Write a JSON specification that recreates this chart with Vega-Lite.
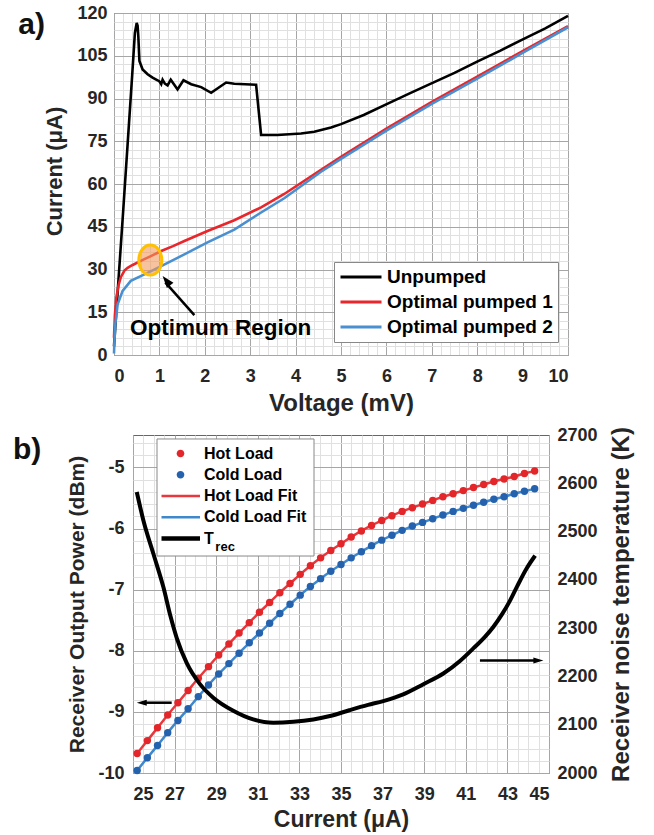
{
"$schema":"https://vega.github.io/schema/vega-lite/v6.json",
"padding":{"left":12,"top":3,"right":5,"bottom":3},
"spacing":80,
"center":true,
"bounds":"flush",
"resolve":{"scale":{"color":"independent"},"legend":{"color":"independent"}},
"datasets":{
"iv":[
{"s":"Unpumped","V":0,"I":3},{"s":"Unpumped","V":0.05,"I":15},{"s":"Unpumped","V":0.2,"I":50},{"s":"Unpumped","V":0.3,"I":74},{"s":"Unpumped","V":0.4,"I":98},{"s":"Unpumped","V":0.46,"I":113},{"s":"Unpumped","V":0.5,"I":116.5},{"s":"Unpumped","V":0.52,"I":115.5},{"s":"Unpumped","V":0.535,"I":112},{"s":"Unpumped","V":0.56,"I":103.2},{"s":"Unpumped","V":0.63,"I":100.2},{"s":"Unpumped","V":0.74,"I":98.5},{"s":"Unpumped","V":0.85,"I":97.3},{"s":"Unpumped","V":0.96,"I":96.4},{"s":"Unpumped","V":1.0,"I":96.0},{"s":"Unpumped","V":1.04,"I":95.0},{"s":"Unpumped","V":1.07,"I":96.6},{"s":"Unpumped","V":1.12,"I":95.2},{"s":"Unpumped","V":1.18,"I":94.6},{"s":"Unpumped","V":1.25,"I":96.6},{"s":"Unpumped","V":1.32,"I":95.0},{"s":"Unpumped","V":1.4,"I":93.2},{"s":"Unpumped","V":1.53,"I":96.4},{"s":"Unpumped","V":1.7,"I":95.0},{"s":"Unpumped","V":1.92,"I":94.0},{"s":"Unpumped","V":2.14,"I":92.0},{"s":"Unpumped","V":2.47,"I":95.6},{"s":"Unpumped","V":2.65,"I":95.2},{"s":"Unpumped","V":3.13,"I":94.8},{"s":"Unpumped","V":3.24,"I":77.2},{"s":"Unpumped","V":3.6,"I":77.2},{"s":"Unpumped","V":4.12,"I":77.7},{"s":"Unpumped","V":4.41,"I":78.3},{"s":"Unpumped","V":4.78,"I":79.8},{"s":"Unpumped","V":5.0,"I":81.0},{"s":"Unpumped","V":5.5,"I":84.2},{"s":"Unpumped","V":6.03,"I":88.2},{"s":"Unpumped","V":6.5,"I":91.7},{"s":"Unpumped","V":6.98,"I":95.2},{"s":"Unpumped","V":7.5,"I":99.0},{"s":"Unpumped","V":8.01,"I":103.0},{"s":"Unpumped","V":8.5,"I":106.7},{"s":"Unpumped","V":8.96,"I":110.4},{"s":"Unpumped","V":9.5,"I":114.6},{"s":"Unpumped","V":10.0,"I":119.0},
{"s":"Optimal pumped 1","V":0,"I":6},{"s":"Optimal pumped 1","V":0.02,"I":14},{"s":"Optimal pumped 1","V":0.05,"I":20},{"s":"Optimal pumped 1","V":0.1,"I":24.5},{"s":"Optimal pumped 1","V":0.15,"I":27.3},{"s":"Optimal pumped 1","V":0.23,"I":29.6},{"s":"Optimal pumped 1","V":0.3,"I":30.6},{"s":"Optimal pumped 1","V":0.4,"I":31.5},{"s":"Optimal pumped 1","V":0.6,"I":33.1},{"s":"Optimal pumped 1","V":0.8,"I":34.6},{"s":"Optimal pumped 1","V":1.04,"I":36.5},{"s":"Optimal pumped 1","V":1.3,"I":38.2},{"s":"Optimal pumped 1","V":1.55,"I":40.0},{"s":"Optimal pumped 1","V":2.06,"I":43.5},{"s":"Optimal pumped 1","V":2.65,"I":47.3},{"s":"Optimal pumped 1","V":3.24,"I":51.8},{"s":"Optimal pumped 1","V":3.75,"I":56.5},{"s":"Optimal pumped 1","V":4.56,"I":65.0},{"s":"Optimal pumped 1","V":5,"I":69.5},{"s":"Optimal pumped 1","V":6,"I":79.4},{"s":"Optimal pumped 1","V":7,"I":88.8},{"s":"Optimal pumped 1","V":8,"I":97.7},{"s":"Optimal pumped 1","V":9,"I":106.6},{"s":"Optimal pumped 1","V":10,"I":115.4},
{"s":"Optimal pumped 2","V":0,"I":0.5},{"s":"Optimal pumped 2","V":0.01,"I":5},{"s":"Optimal pumped 2","V":0.03,"I":10.8},{"s":"Optimal pumped 2","V":0.08,"I":17.8},{"s":"Optimal pumped 2","V":0.19,"I":22.5},{"s":"Optimal pumped 2","V":0.37,"I":26.0},{"s":"Optimal pumped 2","V":0.67,"I":28.3},{"s":"Optimal pumped 2","V":1.04,"I":31.2},{"s":"Optimal pumped 2","V":1.55,"I":35.3},{"s":"Optimal pumped 2","V":2.06,"I":39.5},{"s":"Optimal pumped 2","V":2.65,"I":44.0},{"s":"Optimal pumped 2","V":3.24,"I":50.0},{"s":"Optimal pumped 2","V":3.75,"I":55.0},{"s":"Optimal pumped 2","V":4.56,"I":64.3},{"s":"Optimal pumped 2","V":5,"I":68.8},{"s":"Optimal pumped 2","V":6,"I":78.7},{"s":"Optimal pumped 2","V":7,"I":88.1},{"s":"Optimal pumped 2","V":8,"I":97.0},{"s":"Optimal pumped 2","V":9,"I":106.0},{"s":"Optimal pumped 2","V":10,"I":115.0}
],
"pw":[
{"I":25.20,"P":-9.68,"pt":"Hot Load","fit":"Hot Load Fit"},{"I":25.69,"P":-9.47,"pt":"Hot Load","fit":"Hot Load Fit"},{"I":26.18,"P":-9.26,"pt":"Hot Load","fit":"Hot Load Fit"},{"I":26.67,"P":-9.05,"pt":"Hot Load","fit":"Hot Load Fit"},{"I":27.16,"P":-8.85,"pt":"Hot Load","fit":"Hot Load Fit"},{"I":27.65,"P":-8.65,"pt":"Hot Load","fit":"Hot Load Fit"},{"I":28.14,"P":-8.45,"pt":"Hot Load","fit":"Hot Load Fit"},{"I":28.63,"P":-8.26,"pt":"Hot Load","fit":"Hot Load Fit"},{"I":29.12,"P":-8.07,"pt":"Hot Load","fit":"Hot Load Fit"},{"I":29.61,"P":-7.89,"pt":"Hot Load","fit":"Hot Load Fit"},{"I":30.10,"P":-7.71,"pt":"Hot Load","fit":"Hot Load Fit"},{"I":30.59,"P":-7.54,"pt":"Hot Load","fit":"Hot Load Fit"},{"I":31.08,"P":-7.37,"pt":"Hot Load","fit":"Hot Load Fit"},{"I":31.57,"P":-7.21,"pt":"Hot Load","fit":"Hot Load Fit"},{"I":32.06,"P":-7.05,"pt":"Hot Load","fit":"Hot Load Fit"},{"I":32.55,"P":-6.90,"pt":"Hot Load","fit":"Hot Load Fit"},{"I":33.04,"P":-6.75,"pt":"Hot Load","fit":"Hot Load Fit"},{"I":33.53,"P":-6.61,"pt":"Hot Load","fit":"Hot Load Fit"},{"I":34.02,"P":-6.48,"pt":"Hot Load","fit":"Hot Load Fit"},{"I":34.51,"P":-6.36,"pt":"Hot Load","fit":"Hot Load Fit"},{"I":35.00,"P":-6.25,"pt":"Hot Load","fit":"Hot Load Fit"},{"I":35.49,"P":-6.14,"pt":"Hot Load","fit":"Hot Load Fit"},{"I":35.98,"P":-6.04,"pt":"Hot Load","fit":"Hot Load Fit"},{"I":36.47,"P":-5.95,"pt":"Hot Load","fit":"Hot Load Fit"},{"I":36.96,"P":-5.87,"pt":"Hot Load","fit":"Hot Load Fit"},{"I":37.45,"P":-5.79,"pt":"Hot Load","fit":"Hot Load Fit"},{"I":37.94,"P":-5.72,"pt":"Hot Load","fit":"Hot Load Fit"},{"I":38.43,"P":-5.66,"pt":"Hot Load","fit":"Hot Load Fit"},{"I":38.92,"P":-5.60,"pt":"Hot Load","fit":"Hot Load Fit"},{"I":39.41,"P":-5.54,"pt":"Hot Load","fit":"Hot Load Fit"},{"I":39.90,"P":-5.48,"pt":"Hot Load","fit":"Hot Load Fit"},{"I":40.39,"P":-5.43,"pt":"Hot Load","fit":"Hot Load Fit"},{"I":40.88,"P":-5.38,"pt":"Hot Load","fit":"Hot Load Fit"},{"I":41.37,"P":-5.33,"pt":"Hot Load","fit":"Hot Load Fit"},{"I":41.86,"P":-5.28,"pt":"Hot Load","fit":"Hot Load Fit"},{"I":42.35,"P":-5.23,"pt":"Hot Load","fit":"Hot Load Fit"},{"I":42.84,"P":-5.19,"pt":"Hot Load","fit":"Hot Load Fit"},{"I":43.33,"P":-5.15,"pt":"Hot Load","fit":"Hot Load Fit"},{"I":43.82,"P":-5.10,"pt":"Hot Load","fit":"Hot Load Fit"},{"I":44.31,"P":-5.06,"pt":"Hot Load","fit":"Hot Load Fit"},
{"I":25.20,"P":-9.96,"pt":"Cold Load","fit":"Cold Load Fit"},{"I":25.69,"P":-9.75,"pt":"Cold Load","fit":"Cold Load Fit"},{"I":26.18,"P":-9.55,"pt":"Cold Load","fit":"Cold Load Fit"},{"I":26.67,"P":-9.34,"pt":"Cold Load","fit":"Cold Load Fit"},{"I":27.16,"P":-9.14,"pt":"Cold Load","fit":"Cold Load Fit"},{"I":27.65,"P":-8.95,"pt":"Cold Load","fit":"Cold Load Fit"},{"I":28.14,"P":-8.75,"pt":"Cold Load","fit":"Cold Load Fit"},{"I":28.63,"P":-8.56,"pt":"Cold Load","fit":"Cold Load Fit"},{"I":29.12,"P":-8.38,"pt":"Cold Load","fit":"Cold Load Fit"},{"I":29.61,"P":-8.21,"pt":"Cold Load","fit":"Cold Load Fit"},{"I":30.10,"P":-8.04,"pt":"Cold Load","fit":"Cold Load Fit"},{"I":30.59,"P":-7.87,"pt":"Cold Load","fit":"Cold Load Fit"},{"I":31.08,"P":-7.71,"pt":"Cold Load","fit":"Cold Load Fit"},{"I":31.57,"P":-7.55,"pt":"Cold Load","fit":"Cold Load Fit"},{"I":32.06,"P":-7.39,"pt":"Cold Load","fit":"Cold Load Fit"},{"I":32.55,"P":-7.24,"pt":"Cold Load","fit":"Cold Load Fit"},{"I":33.04,"P":-7.09,"pt":"Cold Load","fit":"Cold Load Fit"},{"I":33.53,"P":-6.95,"pt":"Cold Load","fit":"Cold Load Fit"},{"I":34.02,"P":-6.82,"pt":"Cold Load","fit":"Cold Load Fit"},{"I":34.51,"P":-6.70,"pt":"Cold Load","fit":"Cold Load Fit"},{"I":35.00,"P":-6.59,"pt":"Cold Load","fit":"Cold Load Fit"},{"I":35.49,"P":-6.48,"pt":"Cold Load","fit":"Cold Load Fit"},{"I":35.98,"P":-6.38,"pt":"Cold Load","fit":"Cold Load Fit"},{"I":36.47,"P":-6.28,"pt":"Cold Load","fit":"Cold Load Fit"},{"I":36.96,"P":-6.19,"pt":"Cold Load","fit":"Cold Load Fit"},{"I":37.45,"P":-6.11,"pt":"Cold Load","fit":"Cold Load Fit"},{"I":37.94,"P":-6.03,"pt":"Cold Load","fit":"Cold Load Fit"},{"I":38.43,"P":-5.96,"pt":"Cold Load","fit":"Cold Load Fit"},{"I":38.92,"P":-5.90,"pt":"Cold Load","fit":"Cold Load Fit"},{"I":39.41,"P":-5.84,"pt":"Cold Load","fit":"Cold Load Fit"},{"I":39.90,"P":-5.78,"pt":"Cold Load","fit":"Cold Load Fit"},{"I":40.39,"P":-5.72,"pt":"Cold Load","fit":"Cold Load Fit"},{"I":40.88,"P":-5.67,"pt":"Cold Load","fit":"Cold Load Fit"},{"I":41.37,"P":-5.62,"pt":"Cold Load","fit":"Cold Load Fit"},{"I":41.86,"P":-5.57,"pt":"Cold Load","fit":"Cold Load Fit"},{"I":42.35,"P":-5.52,"pt":"Cold Load","fit":"Cold Load Fit"},{"I":42.84,"P":-5.48,"pt":"Cold Load","fit":"Cold Load Fit"},{"I":43.33,"P":-5.43,"pt":"Cold Load","fit":"Cold Load Fit"},{"I":43.82,"P":-5.39,"pt":"Cold Load","fit":"Cold Load Fit"},{"I":44.31,"P":-5.35,"pt":"Cold Load","fit":"Cold Load Fit"}
],
"trec":[
{"I":25.18,"T":2582,"s":"T"},{"I":25.5,"T":2523,"s":"T"},{"I":25.98,"T":2454,"s":"T"},{"I":26.46,"T":2385,"s":"T"},{"I":26.8,"T":2325,"s":"T"},{"I":27.1,"T":2280,"s":"T"},{"I":27.58,"T":2228,"s":"T"},{"I":28.22,"T":2184,"s":"T"},{"I":28.86,"T":2156,"s":"T"},{"I":29.82,"T":2129,"s":"T"},{"I":30.78,"T":2111,"s":"T"},{"I":31.75,"T":2104,"s":"T"},{"I":32.71,"T":2106,"s":"T"},{"I":33.67,"T":2111,"s":"T"},{"I":34.47,"T":2118,"s":"T"},{"I":35.4,"T":2130,"s":"T"},{"I":36.3,"T":2141,"s":"T"},{"I":37.03,"T":2149,"s":"T"},{"I":37.99,"T":2163,"s":"T"},{"I":38.96,"T":2184,"s":"T"},{"I":39.92,"T":2206,"s":"T"},{"I":40.72,"T":2232,"s":"T"},{"I":41.36,"T":2258,"s":"T"},{"I":41.92,"T":2282,"s":"T"},{"I":42.33,"T":2303,"s":"T"},{"I":42.73,"T":2328,"s":"T"},{"I":43.1,"T":2355,"s":"T"},{"I":43.45,"T":2385,"s":"T"},{"I":43.93,"T":2424,"s":"T"},{"I":44.33,"T":2450,"s":"T"}
]
},
"vconcat":[
{
"width":454,"height":342,
"resolve":{"scale":{"x":"independent","y":"independent"},"axis":{"x":"independent","y":"independent"}},
"layer":[
{"data":{"name":"iv"},
"mark":{"type":"line","strokeWidth":2.6},
"encoding":{
"x":{"field":"V","type":"quantitative","scale":{"domain":[0,10],"nice":false,"zero":false},"axis":null},
"y":{"field":"I","type":"quantitative","scale":{"domain":[0,120],"nice":false},"axis":null},
"color":{"field":"s","type":"nominal","scale":{"domain":["Unpumped","Optimal pumped 1","Optimal pumped 2"],"range":["#000000","#E8262B","#4A90D0"]},
"legend":{"orient":"none","legendX":220,"legendY":249,"title":null,"symbolType":"stroke","symbolSize":1681,"symbolStrokeWidth":3,"labelFontSize":19,"labelFontWeight":"bold","labelColor":"#000000","labelFont":"Liberation Sans","fillColor":"#ffffff","strokeColor":"#888888","padding":5,"rowPadding":5,"clipHeight":20,"labelOffset":4,"labelLimit":300}}
}},
{"data":{"values":[{}]},
"mark":{"type":"point","shape":"M -0.767 0 A 0.767 1 0 1 0 0.767 0 A 0.767 1 0 1 0 -0.767 0 Z","filled":true,"fill":"#F29A5E","fillOpacity":0.6,"stroke":"#FFC000","strokeWidth":3,"strokeOpacity":1,"size":900},
"encoding":{
"x":{"datum":0.8,"type":"quantitative","scale":{"domain":[0,10],"nice":false,"zero":false},"axis":{"orient":"bottom","values":[0.2,0.4,0.6,0.8,1.2,1.4,1.6,1.8,2.2,2.4,2.6,2.8,3.2,3.4,3.6,3.8,4.2,4.4,4.6,4.8,5.2,5.4,5.6,5.8,6.2,6.4,6.6,6.8,7.2,7.4,7.6,7.8,8.2,8.4,8.6,8.8,9.2,9.4,9.6,9.8],"grid":true,"gridColor":"#E0E0E0","labels":false,"title":null}},
"y":{"datum":33.3,"type":"quantitative","scale":{"domain":[0,120],"nice":false},"axis":{"orient":"left","values":[3,6,9,12,18,21,24,27,33,36,39,42,48,51,54,57,63,66,69,72,78,81,84,87,93,96,99,102,108,111,114,117],"grid":true,"gridColor":"#E0E0E0","labels":false,"title":null}}
}},
{"data":{"values":[{}]},
"mark":{"type":"text","text":"Optimum Region","fontSize":22.5,"fontWeight":"bold","font":"Liberation Sans","color":"#000000","align":"center","baseline":"middle"},
"encoding":{
"x":{"datum":2.35,"type":"quantitative","scale":{"domain":[0,10],"nice":false,"zero":false},"axis":{"orient":"bottom","values":[0,1,2,3,4,5,6,7,8,9,10],"title":"Voltage (mV)","titleFontSize":24,"grid":true,"labelPadding":12,"titlePadding":6}},
"y":{"datum":9.6,"type":"quantitative","scale":{"domain":[0,120],"nice":false},"axis":{"orient":"left","values":[0,15,30,45,60,75,90,105,120],"title":"Current (μA)","titleFontSize":22,"titleY":158,"grid":true,"labelPadding":7,"titlePadding":10}}
}},
{"data":{"values":[{}]},
"mark":{"type":"rule","strokeWidth":2.5,"color":"#000000"},
"encoding":{
"x":{"datum":1.77,"type":"quantitative","scale":{"domain":[0,10],"nice":false,"zero":false},"axis":null},
"y":{"datum":14,"type":"quantitative","scale":{"domain":[0,120],"nice":false},"axis":null},
"x2":{"datum":1.13},"y2":{"datum":25.5}
}},
{"data":{"values":[{}]},
"mark":{"type":"point","shape":"M 0 -1 L 0.7 1 L -0.7 1 Z","filled":true,"fill":"#000000","strokeWidth":0,"size":144,"angle":321,"opacity":1},
"encoding":{
"x":{"datum":1.154,"type":"quantitative","scale":{"domain":[0,10],"nice":false,"zero":false},"axis":null},
"y":{"datum":26.07,"type":"quantitative","scale":{"domain":[0,120],"nice":false},"axis":null}
}},
{"data":{"values":[{}]},
"mark":{"type":"text","text":"a)","fontSize":30,"fontWeight":"bold","font":"Liberation Sans","color":"#111111","align":"left","baseline":"alphabetic"},
"encoding":{
"x":{"datum":-2.11,"type":"quantitative","scale":{"domain":[0,10],"nice":false,"zero":false},"axis":null},
"y":{"datum":112.6,"type":"quantitative","scale":{"domain":[0,120],"nice":false},"axis":null}
}}
]
},
{
"width":416,"height":338,
"resolve":{"scale":{"x":"independent","y":"independent"},"axis":{"x":"independent","y":"independent"}},
"layer":[
{"data":{"name":"pw"},
"mark":{"type":"line","strokeWidth":2.5,"interpolate":"monotone"},
"encoding":{
"x":{"field":"I","type":"quantitative","scale":{"domain":[25,45],"nice":false,"zero":false},"axis":null},
"y":{"field":"P","type":"quantitative","scale":{"domain":[-10,-4.47],"nice":false,"zero":false},"axis":null},
"color":{"field":"fit","type":"nominal","scale":{"domain":["Hot Load","Cold Load","Hot Load Fit","Cold Load Fit","T"],"range":["#E3262A","#2462AE","#E8383D","#3F88CC","#000000"]},
"legend":{"orient":"none","legendX":22.5,"legendY":4,"title":null,"symbolType":"stroke","symbolSize":289,"symbolStrokeWidth":2.5,"labelFontSize":16,"labelFontWeight":"bold","labelColor":"#000000","labelFont":"Liberation Sans","padding":6,"rowPadding":4.25,"clipHeight":17,"labelOffset":26.5,"labelLimit":300,
"encode":{"symbols":{"update":{
"shape":{"signal":"indexof(['Hot Load','Cold Load'], datum.value) >= 0 ? 'M 0.844 0 A 0.45 0.45 0 1 0 1.744 0 A 0.45 0.45 0 1 0 0.844 0 Z' : 'M -1 0 L 3.588 0'"},
"size":{"value":289},
"strokeWidth":{"signal":"datum.value == 'T' ? 4.5 : (indexof(['Hot Load','Cold Load'], datum.value) >= 0 ? 0 : 2.5)"},
"fill":{"signal":"indexof(['Hot Load','Cold Load'], datum.value) >= 0 ? scale('color', datum.value) : 'transparent'"},
"stroke":{"scale":"color","field":"value"},
"opacity":{"value":1}}}}}}
}},
{"data":{"name":"pw"},
"mark":{"type":"circle","size":55,"opacity":1},
"encoding":{
"x":{"field":"I","type":"quantitative","scale":{"domain":[25,45],"nice":false,"zero":false},"axis":{"orient":"bottom","values":[25,27,29,31,33,35,37,39,41,43,45],"title":"Current (μA)","titleFontSize":23,"grid":true,"labelPadding":12,"titlePadding":5}},
"y":{"field":"P","type":"quantitative","scale":{"domain":[-10,-4.47],"nice":false,"zero":false},"axis":{"orient":"left","values":[-10,-9,-8,-7,-6,-5],"labelExpr":"'' + datum.value","title":"Receiver Output Power (dBm)","titleFontSize":21,"grid":true,"labelPadding":9,"titlePadding":10}},
"color":{"field":"pt","type":"nominal"}
}},
{"data":{"values":[{}]},
"mark":{"type":"rule","strokeWidth":2.5,"color":"#000000"},
"encoding":{
"x":{"datum":26.86,"type":"quantitative","scale":{"domain":[25,45],"nice":false,"zero":false},"axis":{"orient":"bottom","values":[25.5,26,26.5,27.5,28,28.5,29.5,30,30.5,31.5,32,32.5,33.5,34,34.5,35.5,36,36.5,37.5,38,38.5,39.5,40,40.5,41.5,42,42.5,43.5,44,44.5],"grid":true,"gridColor":"#E0E0E0","labels":false,"title":null}},
"y":{"datum":-8.85,"type":"quantitative","scale":{"domain":[-10,-4.47],"nice":false,"zero":false},"axis":{"orient":"left","values":[-9.8,-9.6,-9.4,-9.2,-8.8,-8.6,-8.4,-8.2,-7.8,-7.6,-7.4,-7.2,-6.8,-6.6,-6.4,-6.2,-5.8,-5.6,-5.4,-5.2,-4.8,-4.6],"grid":true,"gridColor":"#E0E0E0","labels":false,"title":null}},
"x2":{"datum":25.5}
}},
{"data":{"name":"trec"},
"mark":{"type":"line","strokeWidth":4,"interpolate":"monotone"},
"encoding":{
"x":{"field":"I","type":"quantitative","scale":{"domain":[25,45],"nice":false,"zero":false},"axis":null},
"y":{"field":"T","type":"quantitative","scale":{"domain":[2000,2700],"nice":false,"zero":false},"axis":{"orient":"right","values":[2000,2100,2200,2300,2400,2500,2600,2700],"labelExpr":"'' + datum.value","title":"Receiver noise temperature (K)","titleFontSize":24,"titleAngle":270,"titleBaseline":"top","grid":false,"labelPadding":8,"titlePadding":12}},
"color":{"field":"s","type":"nominal"}
}},
{"data":{"values":[{}]},
"mark":{"type":"point","shape":"M -1 0 L 1 -0.6 L 1 0.6 Z","filled":true,"fill":"#000000","strokeWidth":0,"size":100,"opacity":1},
"encoding":{
"x":{"datum":25.42,"type":"quantitative","scale":{"domain":[25,45],"nice":false,"zero":false},"axis":null},
"y":{"datum":-8.85,"type":"quantitative","scale":{"domain":[-10,-4.47],"nice":false,"zero":false},"axis":null}
}},
{"data":{"values":[{}]},
"mark":{"type":"rule","strokeWidth":2.5,"color":"#000000"},
"encoding":{
"x":{"datum":41.68,"type":"quantitative","scale":{"domain":[25,45],"nice":false,"zero":false},"axis":null},
"y":{"datum":-8.16,"type":"quantitative","scale":{"domain":[-10,-4.47],"nice":false,"zero":false},"axis":null},
"x2":{"datum":44.45}
}},
{"data":{"values":[{}]},
"mark":{"type":"point","shape":"M 1 0 L -1 -0.6 L -1 0.6 Z","filled":true,"fill":"#000000","strokeWidth":0,"size":100,"opacity":1},
"encoding":{
"x":{"datum":44.49,"type":"quantitative","scale":{"domain":[25,45],"nice":false,"zero":false},"axis":null},
"y":{"datum":-8.16,"type":"quantitative","scale":{"domain":[-10,-4.47],"nice":false,"zero":false},"axis":null}
}},
{"data":{"values":[{}]},
"mark":{"type":"rect","fill":"#ffffff","stroke":"#888888","strokeWidth":1},
"encoding":{
"x":{"datum":26.154,"type":"quantitative","scale":{"domain":[25,45],"nice":false,"zero":false},"axis":null},
"x2":{"datum":33.702},
"y":{"datum":-4.535,"type":"quantitative","scale":{"domain":[-10,-4.47],"nice":false,"zero":false},"axis":null},
"y2":{"datum":-6.45}
}},
{"data":{"values":[{}]},
"mark":{"type":"text","text":"rec","fontSize":13,"fontWeight":"bold","font":"Liberation Sans","color":"#000000","align":"left","baseline":"alphabetic"},
"encoding":{
"x":{"datum":28.96,"type":"quantitative","scale":{"domain":[25,45],"nice":false,"zero":false},"axis":null},
"y":{"datum":-6.368,"type":"quantitative","scale":{"domain":[-10,-4.47],"nice":false,"zero":false},"axis":null}
}},
{"data":{"values":[{}]},
"mark":{"type":"text","text":"b)","fontSize":30,"fontWeight":"bold","font":"Liberation Sans","color":"#111111","align":"left","baseline":"alphabetic"},
"encoding":{
"x":{"datum":19.23,"type":"quantitative","scale":{"domain":[25,45],"nice":false,"zero":false},"axis":null},
"y":{"datum":-4.87,"type":"quantitative","scale":{"domain":[-10,-4.47],"nice":false,"zero":false},"axis":null}
}}
]
}
],
"config":{
"font":"Liberation Sans",
"view":{"stroke":"#666666","strokeWidth":1},
"axis":{"labelFont":"Liberation Sans","labelFontSize":18,"labelFontWeight":"bold","labelColor":"#262626","titleFont":"Liberation Sans","titleFontWeight":"bold","titleColor":"#262626","ticks":false,"domain":false,"gridColor":"#A6A6A6","gridOpacity":1,"gridWidth":1},
"legend":{"symbolOpacity":1}
}
}
